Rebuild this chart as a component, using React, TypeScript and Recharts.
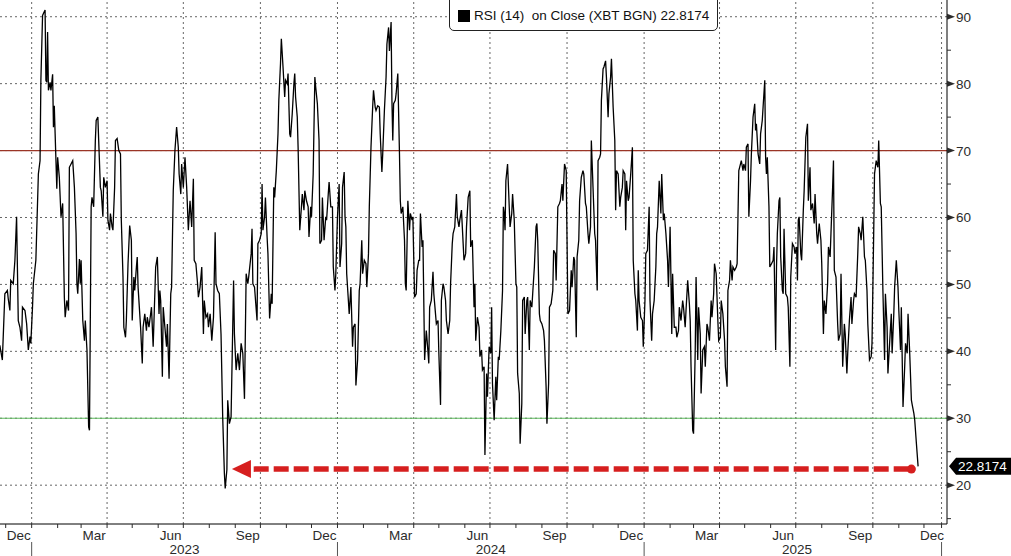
import React from 'react';
import { ComposedChart, Line, XAxis, YAxis, ReferenceLine, ReferenceDot, Legend } from 'recharts';

// RSI (14) of XBT. x = days since 2023-01-01
const rsiDays = [
  -38, -35, -32, -29, -28, -26, -25, -22, -20, -18,
  -16, -14, -12, -11, -8, -6, -4, -2, -1, 1,
  2, 5, 8, 10, 11, 13, 16, 17, 18, 19,
  20, 22, 23, 25, 26, 27, 28, 30, 31, 33,
  35, 37, 39, 40, 42, 44, 45, 47, 49, 51,
  53, 54, 55, 57, 58, 59, 61, 63, 64, 66,
  68, 69, 71, 72, 74, 76, 77, 79, 80, 82,
  83, 85, 86, 88, 90, 91, 93, 94, 96, 97,
  99, 100, 102, 104, 106, 107, 109, 110, 112, 113,
  115, 117, 119, 120, 122, 123, 125, 126, 127, 129,
  130, 132, 133, 135, 137, 138, 140, 142, 143, 145,
  146, 148, 150, 152,
  153, 154, 156, 157, 159, 161, 162, 164, 166, 167,
  169, 171, 173, 175, 176, 178, 179, 181, 183, 185,
  187, 189, 191, 193, 194, 196, 198, 199, 201, 203,
  205, 206, 208, 210, 211, 213, 215, 217, 219, 220,
  222, 224, 226, 228, 230, 231, 233, 234, 236, 238,
  241, 242, 244, 246, 248, 250, 252, 254, 256, 258,
  259, 262, 263, 264, 266, 269, 270, 272, 274, 275,
  276, 278, 279, 281, 282, 284, 286, 287, 289, 290,
  292, 294, 295, 297, 298, 300, 302, 303, 305, 306,
  308, 309, 311, 313, 314, 315, 317, 318, 320, 322,
  323, 325, 326, 328, 330, 331, 333, 334, 336, 338,
  339, 341, 343, 344, 346, 347, 349, 351, 352, 354,
  355, 357, 359, 360, 362, 363, 365, 367, 368, 370,
  371, 373, 374, 375, 376, 378, 379, 381, 383, 384,
  386, 387, 389, 391, 392, 394, 395, 397, 399, 400,
  402, 403, 405, 407, 408, 410, 411, 413, 415, 416,
  418, 419, 421, 423, 424, 426, 427, 429, 430, 431,
  432, 434, 435, 437, 439, 440, 441, 443, 445, 446,
  447, 449, 451, 452, 454, 455, 457, 459, 460, 462,
  463, 464, 466, 467, 469, 471, 472, 474, 475, 477,
  479, 480, 482, 483, 485, 486, 488, 489, 491, 492,
  494, 495, 497, 499, 500, 502, 503, 505, 507, 508,
  510, 511, 513, 515, 516, 518, 519, 521, 523,
  524, 526, 528, 529, 530, 532, 534, 535, 537, 538,
  540, 541, 543, 544, 546, 548, 549, 550, 552, 554,
  555, 557, 558, 560, 562, 563, 564, 565, 566, 568,
  570, 571, 573, 574, 576, 578, 579, 580, 582, 583,
  585, 586, 588, 589, 591, 592, 594, 595, 597, 598,
  600, 602, 603, 604, 606, 607, 609, 611, 612, 614,
  615, 617, 618, 620, 622, 623, 625, 626, 628, 630,
  631, 633, 634, 636, 638, 639, 640, 642, 644, 645,
  647, 648, 650, 651, 653, 654, 656, 658, 659, 661,
  662, 664, 665, 667, 668, 670, 672, 673, 675, 676,
  678, 679, 680, 682, 683, 685, 686, 688, 689, 691,
  692, 694, 696, 697, 698, 700, 702, 703, 705, 706,
  708,
  709, 710, 712, 713, 715, 717, 718, 720, 721, 723,
  724, 725, 727, 729, 730, 732, 733, 735, 737, 738,
  740, 741, 743, 745, 746, 747, 749, 751, 752, 754,
  755, 757, 759, 760, 762, 763, 764, 765, 767, 769,
  770, 772, 773, 775, 777, 778, 780, 781, 783, 785,
  786, 787, 789, 790, 792, 793, 795, 796, 798, 799,
  801, 803, 804, 806, 807, 809, 811, 812, 814, 815,
  817, 819, 820, 822, 823, 825, 827, 828, 830, 831,
  833, 834, 836, 837, 839, 841, 842, 844, 845, 847,
  849, 850, 852, 853, 855, 856, 858, 859, 861, 863,
  864, 865, 867, 869, 870, 872, 873, 875, 876, 877,
  878, 880, 881, 883, 885, 886, 888, 889, 890, 892,
  893,
  894, 896, 897, 898, 900, 902, 903, 905, 906, 908,
  910, 911, 913, 914, 915, 916, 918, 919, 921, 922,
  924, 926, 927, 929, 930, 932, 934, 935, 937, 938,
  940, 942, 943, 945, 946, 948, 950, 951, 953, 954,
  956, 957, 958, 960, 962, 963, 965, 966, 968, 970,
  971, 973, 974, 976, 978, 979, 981, 982, 984, 986,
  987, 989, 990, 992, 994, 995, 997, 998, 1000, 1002,
  1003, 1005, 1006, 1008, 1010, 1011, 1013, 1014, 1016, 1018,
  1019, 1021, 1022, 1024, 1026, 1027, 1029, 1030, 1032, 1034,
  1035, 1037, 1038, 1040, 1042, 1043, 1045, 1046, 1048, 1050,
  1051, 1053, 1054, 1056, 1058,
];

const rsiValues = [
  40.9, 38.7, 48.6, 49.1, 47.9, 46.1, 50.6, 50.1, 53.6, 60.1,
  44.6, 43.6, 41.6, 46.6, 46.1, 44.1, 40.2, 42.2, 41.2, 46.6,
  50.1, 53.6, 66.5, 68.5, 80.5, 90.2, 91.0, 80.5, 80.2, 87.7,
  79.0, 80.2, 79.0, 81.4, 73.5, 76.7, 72.5, 64.3, 69.0, 66.0,
  60.1, 62.1, 48.1, 45.1, 47.6, 46.1, 67.5, 68.0, 68.5, 64.5,
  57.6, 50.1, 48.6, 53.8, 50.1, 53.6, 44.6, 41.6, 44.6, 40.2,
  28.7, 28.2, 61.6, 63.0, 61.6, 71.5, 74.5, 75.0, 71.5, 64.5,
  64.0, 60.1, 66.0, 64.5, 65.5, 59.6, 58.1, 60.6, 58.6, 58.1,
  64.5, 71.5, 71.8, 70.0, 69.5, 59.6, 51.1, 43.6, 42.1, 44.6,
  53.1, 58.8, 56.6, 44.6, 51.1, 49.1, 52.6, 54.1, 49.6, 45.6,
  43.6, 38.2, 43.6, 45.6, 43.1, 45.1, 43.6, 45.6, 46.6, 40.7,
  44.6, 52.6, 54.1, 45.6,
  49.1, 47.6, 36.2, 46.6, 43.6, 40.7, 44.1, 35.9, 48.6, 49.6,
  64.0, 70.0, 73.5, 70.5, 66.5, 63.5, 68.0, 64.5, 69.0, 64.5,
  58.1, 62.5, 58.6, 65.8, 53.6, 53.1, 50.1, 48.1, 49.6, 52.6,
  42.6, 47.6, 45.1, 45.6, 43.6, 45.6, 41.6, 45.1, 57.8, 50.1,
  49.1, 48.6, 42.6, 30.2, 21.8, 19.5, 22.3, 32.7, 29.2, 30.2,
  50.6, 42.6, 37.2, 39.7, 37.2, 41.2, 39.7, 32.9, 51.6, 50.1,
  51.1, 54.6, 58.3, 50.1, 49.6, 44.6, 56.1, 56.6, 57.6, 65.0,
  58.1, 60.1, 63.0, 57.1, 54.6, 44.9, 48.6, 47.1, 64.5, 63.0,
  67.0, 72.5, 77.5, 83.0, 86.7, 82.5, 78.0, 80.5, 80.0, 81.5,
  72.5, 72.0, 75.5, 80.0, 81.5, 78.0, 75.0, 70.5, 58.1, 61.6,
  63.5, 61.1, 64.0, 62.5, 61.6, 57.1, 61.6, 60.1, 66.5, 81.0,
  79.5, 77.0, 71.5, 56.1, 56.6, 63.0, 56.6, 60.1, 59.6, 63.5,
  65.3, 61.6, 61.6, 52.6, 49.1, 51.6, 60.1, 65.0, 52.6, 56.1,
  64.5, 66.8, 60.1, 58.6, 51.6, 47.6, 45.6, 49.6, 40.7, 43.6,
  44.1, 34.9, 38.7, 49.1, 50.1, 56.6, 51.6, 53.6, 53.1, 49.6,
  54.6, 61.6, 70.5, 76.5, 79.0, 76.5, 76.0, 76.7, 76.5, 72.5,
  66.8, 69.5, 76.0, 81.0, 85.9, 88.4, 84.9, 89.2, 77.5, 71.5,
  77.0, 77.5, 78.5, 81.5, 69.5, 62.5, 60.6, 61.6, 56.6, 50.1,
  49.1, 62.5, 58.1, 60.6, 59.6, 60.1, 48.1, 48.6, 52.1, 53.6,
  53.6, 60.6, 55.6, 56.6, 38.7, 43.1, 41.6, 38.2, 46.6, 47.6,
  51.9, 48.6, 45.6, 44.1, 44.6, 39.7, 32.0, 47.6, 50.1, 49.6,
  47.6, 44.6, 42.6, 44.6, 50.1, 56.1, 57.6, 58.6, 63.5, 60.1,
  58.6, 59.6, 61.1, 56.1, 53.6, 54.6, 58.6, 63.0, 64.0,
  55.6, 56.6, 46.6, 50.1, 41.6, 45.1, 43.6, 39.2, 40.2, 37.2,
  37.7, 24.5, 36.7, 33.2, 40.7, 39.7, 46.6, 35.2, 29.7, 36.2,
  32.7, 39.2, 38.7, 43.1, 49.1, 61.6, 60.6, 58.1, 65.5, 68.0,
  61.6, 58.6, 60.6, 63.5, 59.6, 50.1, 49.6, 36.7, 33.7, 26.2,
  32.2, 47.6, 48.1, 42.6, 47.6, 48.1, 40.2, 47.6, 46.6, 48.6,
  52.6, 58.6, 59.1, 56.6, 45.6, 44.6, 44.1, 43.1, 41.6, 34.7,
  29.2, 35.2, 46.6, 47.1, 49.1, 55.1, 54.6, 50.6, 61.6, 62.1,
  62.5, 65.0, 62.5, 68.0, 67.0, 56.6, 45.6, 46.1, 52.1, 49.6,
  54.1, 53.6, 42.1, 54.1, 56.6, 62.5, 66.0, 67.0, 66.5, 62.1,
  61.6, 57.6, 56.1, 58.6, 71.5, 64.5, 57.6, 56.6, 49.1, 68.5,
  69.0, 69.5, 77.5, 82.2, 82.5, 83.4, 81.0, 75.0, 78.5, 81.0,
  83.7, 76.5, 71.5, 61.1, 67.0, 66.5, 61.6, 63.0, 64.5, 67.0,
  66.5,
  58.1, 65.5, 62.5, 63.0, 66.5, 70.5, 53.6, 48.6, 47.6, 43.1,
  52.1, 47.6, 45.1, 44.6, 40.7, 47.6, 54.6, 55.1, 61.6, 47.6,
  41.6, 45.6, 47.6, 52.6, 57.6, 58.6, 65.5, 60.6, 66.5, 59.6,
  60.6, 57.6, 53.6, 49.6, 58.6, 51.1, 42.6, 51.6, 43.6, 43.6,
  42.1, 43.1, 46.6, 44.6, 47.6, 46.6, 43.6, 46.1, 50.6, 47.1,
  44.6, 37.7, 28.2, 27.7, 40.2, 51.1, 38.7, 46.6, 42.6, 33.7,
  40.2, 40.7, 37.7, 44.1, 43.6, 41.6, 47.6, 45.1, 48.6, 53.1,
  51.6, 44.6, 41.6, 42.1, 47.6, 45.6, 41.6, 37.7, 34.7, 49.1,
  50.6, 53.6, 50.6, 52.6, 52.1, 52.6, 53.1, 67.0, 67.5, 68.5,
  67.0, 68.0, 67.0, 70.5, 71.0, 60.1, 65.5, 69.5, 75.0, 77.0,
  73.0, 74.0, 69.5, 68.0, 72.5, 74.5, 76.5, 80.5, 69.0, 66.5,
  69.0, 61.6, 52.6, 53.1, 53.6, 55.6, 40.2, 52.6, 57.6, 62.5,
  63.0,
  54.1, 49.1, 48.6, 58.3, 48.6, 48.1, 46.6, 37.7, 51.1, 56.1,
  55.6, 54.6, 55.6, 50.6, 59.6, 60.1, 54.6, 53.6, 61.1, 64.0,
  72.0, 74.0, 62.5, 67.5, 61.1, 62.1, 59.1, 63.5, 57.6, 56.1,
  59.1, 56.6, 53.1, 42.6, 47.6, 45.6, 50.1, 55.6, 54.1, 57.6,
  64.5, 68.5, 52.1, 51.1, 44.1, 41.6, 42.6, 51.6, 37.7, 44.1,
  42.6, 36.7, 39.7, 44.6, 48.1, 44.1, 47.6, 48.6, 48.1, 54.6,
  58.6, 57.6, 56.6, 60.1, 54.1, 53.6, 49.1, 44.1, 38.7, 39.2,
  41.2, 57.6, 66.5, 68.5, 67.5, 71.5, 62.1, 61.6, 49.1, 38.7,
  48.6, 43.6, 36.7, 41.2, 45.6, 39.7, 45.6, 49.6, 53.6, 49.6,
  46.1, 40.2, 46.6, 31.7, 37.7, 41.2, 39.7, 45.6, 39.7, 32.7,
  32.0, 30.7, 29.7, 26.2, 22.8174,
];

const lastValue = 22.8174;
const legendLabel = 'RSI (14)  on Close (XBT BGN)';
const overbought = 70;
const oversold = 30;

const yMajorTicks = [20, 30, 40, 50, 60, 70, 80, 90];
const yMinorTicks = [15, 25, 35, 45, 55, 65, 75, 85];

// month labels sit in the middle of their month
const monthLabelKeys = ['2022-12', '2023-03', '2023-06', '2023-09', '2023-12', '2024-03', '2024-06', '2024-09', '2024-12', '2025-03', '2025-06', '2025-09', '2025-12'];
const monthNames = ['Jan', 'Feb', 'Mar', 'Apr', 'May', 'Jun', 'Jul', 'Aug', 'Sep', 'Oct', 'Nov', 'Dec'];
const yearLabels = [2023, 2024, 2025];

// hand-drawn arrow: tip near the Aug 2023 low, dot at the latest reading
const arrowLevel = 22.4;
const arrowTipDay = 239;
const arrowTailDay = 265;
const arrowEndDay = 1050;
const plotEndDay = 1086;

const BASE = Date.UTC(2023, 0, 1);
const dayOf = (y: number, m: number) => (Date.UTC(y, m - 1, 1) - BASE) / 86400000;

const FONT = "'Liberation Sans', Arial, sans-serif";
const INK = '#2b2b2b';
const RED = '#d61f1f';

const data = rsiDays.map((d, i) => ({ d, rsi: rsiValues[i] }));

// x ticks: month starts, month labels, year labels
const xKind = new Map<number, { kind: string; text?: string }>();
for (let y = 2022; y <= 2025; y++) {
  for (let m = 1; m <= 12; m++) {
    if (y === 2022 && m < 12) continue;
    xKind.set(dayOf(y, m), { kind: m === 1 ? 'sep' : 'm' });
  }
}
xKind.set(plotEndDay, { kind: 'sep' });
monthLabelKeys.forEach((k) => {
  const [y, m] = k.split('-').map(Number);
  xKind.set((dayOf(y, m) + dayOf(y, m + 1)) / 2, { kind: 'l', text: monthNames[m - 1] });
});
yearLabels.forEach((y) => {
  xKind.set((dayOf(y, 1) + dayOf(y + 1, 1)) / 2, { kind: 'y', text: String(y) });
});
const xTicks = Array.from(xKind.keys()).sort((a, b) => a - b);

const quarterStarts: number[] = [];
for (let y = 2023; y <= 2025; y++) [1, 4, 7, 10].forEach((m) => quarterStarts.push(dayOf(y, m)));
quarterStarts.push(plotEndDay);

const XTick = (props: any) => {
  const { x, y, payload } = props;
  const t = xKind.get(payload.value);
  if (!t) return null;
  if (t.kind === 'm') return <line x1={x} x2={x} y1={y} y2={y + 4} stroke={INK} />;
  if (t.kind === 'sep')
    return (
      <g>
        <line x1={x} x2={x} y1={y} y2={y + 4} stroke={INK} />
        <line x1={x} x2={x} y1={y + 18} y2={y + 32} stroke="#555" />
      </g>
    );
  // keep the last label clear of the value axis
  const lx = t.kind === 'l' ? Math.min(x, 932) : x;
  return (
    <text x={lx} y={t.kind === 'l' ? y + 16 : y + 30} textAnchor="middle" fontSize={13.5} fontFamily={FONT} fill={INK}>
      {t.text}
    </text>
  );
};

const YTick = (props: any) => {
  const { x, y, payload } = props;
  const v = payload.value;
  if (v === lastValue) {
    return (
      <g>
        <polygon points={`${x + 2},${y} ${x + 9},${y - 8.5} ${x + 64},${y - 8.5} ${x + 64},${y + 8.5} ${x + 9},${y + 8.5}`} fill="#000" />
        <text x={x + 11} y={y + 5} fontSize={13.5} fontFamily={FONT} fill="#fff">{v}</text>
      </g>
    );
  }
  if (v % 10 === 0) {
    return (
      <g>
        <polygon points={`${x},${y - 3} ${x + 8},${y} ${x},${y + 3}`} fill={INK} />
        <text x={x + 9} y={y + 5} fontSize={13.5} fontFamily={FONT} fill={INK}>{v}</text>
      </g>
    );
  }
  return <line x1={x} x2={x + 4} y1={y} y2={y} stroke={INK} />;
};

const ArrowHead = (p: any) => (
  <polygon points={`${p.cx},${p.cy} ${p.cx + 19},${p.cy - 9} ${p.cx + 19},${p.cy + 9}`} fill={RED} />
);

const LegendBox = () => (
  <div style={{
    display: 'flex', alignItems: 'center', height: 29, paddingTop: 5, paddingLeft: 8, paddingRight: 8,
    background: '#fff', border: '1px solid #222', borderRadius: '0 0 5px 5px',
    fontFamily: FONT, fontSize: 13.5, color: '#111', whiteSpace: 'pre',
  }}>
    <span style={{ width: 12, height: 12, background: '#000', marginRight: 4 }} />
    <span>{legendLabel} {lastValue}</span>
  </div>
);

export default function App() {
  return (
    <div style={{ position: 'absolute', left: 0, top: 0, width: 1011, height: 556, background: '#fff' }}>
      <ComposedChart width={1011} height={556} data={data} margin={{ top: 0, right: 0, bottom: 0, left: 0 }}>
        <XAxis
          dataKey="d" type="number" domain={[-37.8, 1092.5]} allowDataOverflow
          ticks={xTicks} interval={0} tick={(p: any) => <XTick {...p} />}
          tickLine={false} tickSize={0} tickMargin={0} height={32}
          axisLine={{ stroke: '#000' }}
        />
        <YAxis
          orientation="right" type="number" domain={[14.2, 92.5]} allowDataOverflow
          ticks={[...yMinorTicks, ...yMajorTicks, lastValue]} interval={0} tick={(p: any) => <YTick {...p} />}
          tickLine={false} tickSize={0} tickMargin={0} width={64}
          axisLine={{ stroke: '#000' }}
        />
        {yMajorTicks.map((v) => (
          <ReferenceLine key={'h' + v} y={v} stroke="#666" strokeDasharray="2 3" />
        ))}
        {quarterStarts.map((d) => (
          <ReferenceLine key={'v' + d} x={d} stroke="#666" strokeDasharray="2 3" />
        ))}
        <ReferenceLine y={overbought} stroke="#9b3526" strokeWidth={1.3} />
        <ReferenceLine y={oversold} stroke="#5cb85c" strokeWidth={1.2} />
        <Line
          type="linear" dataKey="rsi" stroke="#000" strokeWidth={1.3}
          dot={false} activeDot={false} isAnimationActive={false}
        />
        <ReferenceLine
          segment={[{ x: arrowTailDay, y: arrowLevel }, { x: arrowEndDay, y: arrowLevel }]}
          stroke={RED} strokeWidth={5.5} strokeDasharray="15 5"
        />
        <ReferenceDot x={arrowTipDay} y={arrowLevel} shape={ArrowHead} />
        <ReferenceDot x={arrowEndDay} y={arrowLevel} r={4.5} fill={RED} stroke="none" />
        <Legend
          content={LegendBox} layout="vertical" align="center" verticalAlign="middle"
          wrapperStyle={{ left: 449, top: -5, width: 'auto', height: 'auto' }}
        />
      </ComposedChart>
    </div>
  );
}
